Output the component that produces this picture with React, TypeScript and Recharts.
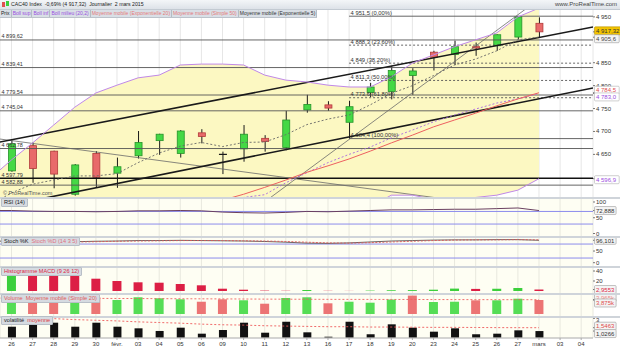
import {
  Area,
  Bar,
  CartesianGrid,
  Cell,
  ComposedChart,
  Line,
  ReferenceLine,
  XAxis,
  YAxis,
} from 'recharts';

const FONT = '"Liberation Sans", Arial, sans-serif';

// time slots: 26 Jan -> 4 Mar 2015 (the last two are empty future days)
const DAY_LABELS = [
  '26', '27', '28', '29', '30', 'févr.', '03', '04', '05', '06', '09', '10', '11', '12',
  '13', '16', '17', '18', '19', '20', '23', '24', '25', '26', '27', 'mars', '03', '04',
];

// daily candles, 26 Jan -> 2 Mar
const OPEN = [4614, 4669, 4657, 4563, 4652, 4609, 4647, 4680, 4652, 4697, 4650, 4662, 4685, 4665, 4747, 4758, 4720, 4785, 4787, 4822, 4873, 4868, 4885, 4887, 4906, 4936];
const HIGH = [4680, 4676, 4658, 4629, 4657, 4643, 4701, 4695, 4703, 4705, 4656, 4714, 4692, 4745, 4780, 4766, 4767, 4806, 4843, 4838, 4876, 4898, 4894, 4912, 4951.5, 4949];
const LOW = [4612, 4588, 4576, 4560, 4577, 4577, 4641, 4649, 4643, 4674, 4607, 4634, 4656, 4659, 4741, 4745, 4684.4, 4775, 4770, 4780, 4833, 4845, 4865, 4876, 4901, 4905.6];
const CLOSE = [4673, 4619, 4607, 4627, 4600, 4623, 4676, 4694, 4701, 4689, 4649, 4694, 4678, 4725, 4759, 4751, 4754, 4797, 4833, 4832, 4862, 4885, 4882, 4911, 4950, 4917.32];

// indicator series start one day earlier (23 Jan) so they run to the left edge
const BOLL_SUP = [4598, 4638, 4675, 4714, 4753, 4784, 4801, 4817, 4823, 4845, 4847, 4847, 4845, 4823, 4812, 4808, 4801, 4797, 4797, 4819, 4849, 4867, 4885, 4900, 4915, 4950, 4969.1];
const BOLL_INF = [4242, 4232, 4225, 4210, 4197, 4192, 4199, 4207, 4221, 4219, 4233, 4249, 4267, 4321, 4376, 4432, 4469, 4509, 4535, 4561, 4561, 4552, 4550, 4556, 4561, 4572, 4596.9];
const BOLL_MID = [4420, 4435, 4450, 4462, 4475, 4488, 4500, 4512, 4522, 4532, 4540, 4548, 4556, 4562, 4588, 4610, 4632, 4650, 4666, 4686, 4703, 4721, 4736, 4749, 4762, 4771, 4783];
const EMA20 = [4452, 4462, 4470, 4478, 4485, 4493, 4500, 4510, 4520, 4530, 4540, 4550, 4563, 4578, 4594, 4611, 4625, 4640, 4657, 4675, 4692, 4710, 4725, 4740, 4756, 4771, 4784.5];
const EMA5 = [4540, 4566, 4585, 4594, 4603, 4603, 4608, 4632, 4653, 4668, 4676, 4667, 4676, 4677, 4693, 4715, 4727, 4736, 4758, 4783, 4800, 4822, 4845, 4858, 4876, 4900, 4906];

const RSI = [73, 73, 71, 70, 70, 69, 70, 72, 72, 73, 72, 68, 66, 65, 67, 70, 69, 71, 73, 75, 75, 76, 77, 77, 79, 81, 72.888];
const STOCH_K = [93, 92, 90, 88, 90, 92, 93, 95, 95, 96, 95, 94, 93, 91, 88, 84, 83, 85, 89, 93, 95, 97, 98, 98, 99, 99, 96.101];
const STOCH_D = [92, 92, 91, 90, 89, 90, 92, 93, 94, 95, 95, 95, 94, 93, 91, 88, 85, 84, 86, 89, 92, 95, 97, 98, 98, 99, 98];
const VOLUME_SMA = [4.4, 4.4, 4.38, 4.36, 4.34, 4.32, 4.3, 4.28, 4.25, 4.22, 4.2, 4.18, 4.15, 4.12, 4.1, 4.08, 4.06, 4.05, 4.04, 4.03, 4.02, 4.0, 3.99, 3.98, 3.97, 3.965, 3.965];
const VOLATILITY_AVG = [3.25, 3.15, 3.05, 2.95, 2.8, 2.7, 2.6, 2.45, 2.35, 2.25, 2.1, 2.0, 1.95, 1.85, 1.8, 1.75, 1.7, 1.7, 1.65, 1.65, 1.62, 1.6, 1.6, 1.58, 1.56, 1.55, 1.5463];

// daily bars, 26 Jan -> 2 Mar
const MACD_HIST = [34, 33.8, 33.5, 31.4, 24.6, 20, 17.4, 16.6, 14, 11.4, 4.6, 2.6, 0.8, 0.5, 2, 0.4, 0.2, 0.8, 1.5, 1.8, 2.6, 4.8, 4.2, 4.5, 6.0, 2.9553];
const VOLUME = [3.6, 3.6, 3.6, 3.6, 4.63, 3.88, 4.63, 4.35, 4.07, 3.4, 4.07, 3.8, 2.85, 4.43, 4.63, 2.96, 3.4, 3.13, 4.0, 5.1, 3.32, 3.4, 3.79, 3.79, 4.24, 3.875];
const VOLATILITY = [1.7, 2.32, 2.32, 1.7, 2.32, 1.7, 1.45, 1.04, 1.55, 0.62, 1.19, 2.32, 0.77, 2.47, 0.83, 0.15, 2.47, 0.53, 2.07, 1.55, 0.93, 1.45, 0.53, 0.62, 1.14, 1.0266];

// drawn levels
const SUPPORTS = [4899.62, 4839.41, 4779.54, 4745.04, 4662.78, 4597.79, 4582.88];
const FIB_LEVELS = [4951.5, 4888.3, 4849, 4811.3, 4773.6, 4684.4];
const FIB_PCT = ['0,00%', '23,60%', '38,20%', '50,00%', '61,80%', '100,00%'];
const FIB_FROM = 16;
// trendlines as [slot, price] end points
const TREND_THICK = [
  [[-0.55, 4677], [27.56, 4928]],
  [[-0.55, 4535], [27.56, 4795]],
];
const TREND_THIN = [
  [[-0.55, 4683.5], [20.17, 4555]],
  [[12.25, 4555], [24.57, 4974]],
];

const X_DOMAIN: [number, number] = [-0.545, 27.56];
const SLOTS = DAY_LABELS.map((_, i) => i);
const last = (a: number[]) => a[a.length - 1];

const GREEN = '#45d845';
const GREEN_EDGE = '#26922a';
const RED = '#e86a6a';
const RED_EDGE = '#b23a3a';
const MACD_RED = '#dc1f45';
const PURPLE = '#c088e8';
const GRID = '#e6e6e6';

const rows = [-1, ...SLOTS].map((i) => {
  const k = i + 1;
  const has = i >= 0 && i < CLOSE.length;
  return {
    i,
    range: has ? [LOW[i], HIGH[i]] : null,
    open: has ? OPEN[i] : null,
    close: has ? CLOSE[i] : null,
    band: k < BOLL_SUP.length ? [BOLL_INF[k], BOLL_SUP[k]] : null,
    bollSup: BOLL_SUP[k],
    bollInf: BOLL_INF[k],
    bollMid: BOLL_MID[k],
    ema20: EMA20[k],
    ema5: EMA5[k],
    rsi: RSI[k],
    stochK: STOCH_K[k],
    stochD: STOCH_D[k],
    volSma: VOLUME_SMA[k],
    volaAvg: VOLATILITY_AVG[k],
    macd: has ? MACD_HIST[i] : null,
    volume: has ? VOLUME[i] : null,
    vola: has ? VOLATILITY[i] : null,
  };
});

const macdUp = MACD_HIST.map((v, i) => i === 0 || v >= MACD_HIST[i - 1]);
const volUp = CLOSE.map((v, i) => i === 0 || v >= CLOSE[i - 1]);

const fr = (v: number, d = 0) => {
  const [a, b] = v.toFixed(d).split('.');
  const int = a.replace(/\B(?=(\d{3})+(?!\d))/g, ' ');
  return b ? `${int},${b}` : int;
};

interface Marker {
  value: number;
  digits: number;
  suffix?: string;
  color: string;
  bg: string;
  border: string;
  dy?: number;
}

function makeTick(markers: Marker[], nudge: Record<number, number> = {}) {
  return (p: any) => {
    const { x, y, payload } = p;
    const m = markers.find((mk) => mk.value === payload.value);
    if (!m) {
      return (
        <text x={x} y={y + 2 + (nudge[payload.value] ?? 0)} fontSize={6} fill="#333" fontFamily={FONT}>
          {fr(payload.value)}
        </text>
      );
    }
    const label = fr(m.value, m.digits) + (m.suffix ?? '');
    const w = label.length * 3.1 + 3;
    return (
      <g transform={`translate(${x},${y + (m.dy ?? 0)})`}>
        <rect x={-1.5} y={-4} width={w} height={8} fill={m.bg} stroke={m.border} strokeWidth={0.6} rx={1} />
        <text x={0} y={2.2} fontSize={6} fill={m.color} fontFamily={FONT}>
          {label}
        </text>
      </g>
    );
  };
}

const plainBox = { bg: '#f4f4f4', border: '#9a9a9a' };

function Candle(props: any) {
  const { x, y, width, height, payload } = props;
  if (!payload || payload.range == null) return <g />;
  const { open, close } = payload;
  const [low, high] = payload.range;
  const k = height / (high - low);
  const top = y + (high - Math.max(open, close)) * k;
  const bottom = y + (high - Math.min(open, close)) * k;
  const cx = x + width / 2;
  const up = close > open;
  const flat = Math.abs(close - open) < 2;
  return (
    <g>
      <line x1={cx} x2={cx} y1={y} y2={y + height} stroke="#1a1a1a" strokeWidth={1} />
      {flat ? (
        <line x1={x} x2={x + width} y1={top} y2={top} stroke="#1a1a1a" strokeWidth={1.2} />
      ) : (
        <rect
          x={x + 0.5}
          y={top}
          width={width - 1}
          height={Math.max(1, bottom - top)}
          fill={up ? GREEN : RED}
          stroke={up ? GREEN_EDGE : RED_EDGE}
          strokeWidth={0.8}
        />
      )}
    </g>
  );
}

const hiddenX = (
  <XAxis dataKey="i" type="number" domain={X_DOMAIN} ticks={SLOTS} hide allowDataOverflow />
);
const MARGIN = { top: 0, right: 0, bottom: 0, left: 0 };

function PriceChart() {
  const markers: Marker[] = [
    { value: last(CLOSE), digits: 2, color: '#333', bg: '#f3c400', border: '#b58e00', dy: -1 },
    { value: last(LOW), digits: 1, color: '#444', ...plainBox, dy: 1.5 },
    { value: last(EMA20), digits: 1, color: '#e05050', bg: '#fff', border: '#b0b0b0', dy: -2.5 },
    { value: last(BOLL_MID), digits: 1, color: '#9a4ee0', bg: '#fff', border: '#b0b0b0', dy: 3.5 },
    { value: last(BOLL_INF), digits: 1, color: '#9a4ee0', bg: '#fff', border: '#b0b0b0', dy: 1 },
  ];
  return (
    <ComposedChart width={620} height={187} data={rows} margin={MARGIN}>
      <CartesianGrid horizontal={false} stroke={GRID} fill="#fff" />
      {hiddenX}
      <YAxis
        orientation="right"
        width={27}
        domain={[4557, 4965]}
        allowDataOverflow
        ticks={[4650, 4700, 4750, 4800, 4850, 4950, ...markers.map((m) => m.value)]}
        interval={0}
        axisLine={false}
        tickLine={{ stroke: '#777' }}
        tickSize={2}
        tickMargin={1}
        tick={makeTick(markers)}
      />
      <Area dataKey="band" stroke="none" fill="#fcf8c2" fillOpacity={1} isAnimationActive={false} />
      {SUPPORTS.map((v) => (
        <ReferenceLine
          key={v}
          y={v}
          stroke={v === 4597.79 ? '#111' : '#555'}
          strokeWidth={v === 4597.79 ? 1.4 : 0.9}
          label={{ value: fr(v, 2), position: 'insideBottomLeft', offset: 1.5, fontSize: 5.5, fill: '#333' }}
        />
      ))}
      {FIB_LEVELS.map((v, n) => (
        <ReferenceLine
          key={`f${v}`}
          segment={[{ x: FIB_FROM, y: v }, { x: X_DOMAIN[1], y: v }]}
          stroke="#555"
          strokeWidth={0.9}
          strokeDasharray={n === 0 || n === FIB_LEVELS.length - 1 ? undefined : '2 2'}
          ifOverflow="hidden"
          label={{ value: `${fr(v, v % 1 ? 1 : 0)} (${FIB_PCT[n]})`, position: 'insideBottomLeft', offset: 1.5, fontSize: 5.8, fill: '#333' }}
        />
      ))}
      {TREND_THIN.map((t, n) => (
        <ReferenceLine
          key={`tt${n}`}
          segment={[{ x: t[0][0], y: t[0][1] }, { x: t[1][0], y: t[1][1] }]}
          stroke="#6a6a6a"
          strokeWidth={0.8}
          ifOverflow="hidden"
        />
      ))}
      {TREND_THICK.map((t, n) => (
        <ReferenceLine
          key={`tk${n}`}
          segment={[{ x: t[0][0], y: t[0][1] }, { x: t[1][0], y: t[1][1] }]}
          stroke="#1a1a1a"
          strokeWidth={1.6}
          ifOverflow="hidden"
        />
      ))}
      <Line dataKey="bollSup" stroke={PURPLE} strokeWidth={1} dot={false} isAnimationActive={false} />
      <Line dataKey="bollInf" stroke={PURPLE} strokeWidth={1} dot={false} isAnimationActive={false} />
      <Line dataKey="bollMid" stroke="#a868e0" strokeWidth={0.9} strokeDasharray="2 2" dot={false} isAnimationActive={false} />
      <Line dataKey="ema20" stroke="#ee6060" strokeWidth={1} dot={false} isAnimationActive={false} />
      <Line dataKey="ema5" stroke="#666" strokeWidth={0.9} strokeDasharray="2 2" dot={false} isAnimationActive={false} />
      <Bar dataKey="range" barSize={8} shape={Candle} isAnimationActive={false} />
    </ComposedChart>
  );
}

function OscChart(props: {
  height: number;
  domain: [number, number];
  ticks: number[];
  markers: Marker[];
  bands: number[];
  children: any;
}) {
  return (
    <ComposedChart width={620} height={props.height} data={rows} margin={MARGIN}>
      <CartesianGrid horizontal={false} stroke="#e8e8de" fill="#fefef3" />
      {hiddenX}
      <YAxis
        orientation="right"
        width={27}
        domain={props.domain}
        allowDataOverflow
        ticks={props.ticks}
        interval={0}
        axisLine={false}
        tickLine={{ stroke: '#777' }}
        tickSize={2}
        tickMargin={1}
        tick={makeTick(props.markers)}
      />
      {props.bands.map((b) => (
        <ReferenceLine key={b} y={b} stroke="#8c8cec" strokeWidth={1} />
      ))}
      {props.children}
    </ComposedChart>
  );
}

function VolatilityChart() {
  const markers: Marker[] = [
    { value: last(VOLATILITY_AVG), digits: 4, color: '#e04848', ...plainBox, dy: -1.5 },
    { value: last(VOLATILITY), digits: 4, color: '#333', ...plainBox, dy: 2.5 },
  ];
  return (
    <ComposedChart width={620} height={31} data={rows} margin={MARGIN}>
      <CartesianGrid horizontal={false} stroke="#e8e8de" fill="#fefef3" />
      <XAxis
        dataKey="i"
        type="number"
        domain={X_DOMAIN}
        ticks={SLOTS}
        interval={0}
        allowDataOverflow
        height={11}
        axisLine={{ stroke: '#aaa' }}
        tickLine={{ stroke: '#aaa' }}
        tickSize={2}
        tick={{ fontSize: 6, fill: '#333', fontFamily: FONT }}
        tickFormatter={(v: number) => DAY_LABELS[v] ?? ''}
      />
      <YAxis
        orientation="right"
        width={27}
        domain={[-0.05, 3.05]}
        allowDataOverflow
        ticks={[3, ...markers.map((m) => m.value)]}
        interval={0}
        axisLine={false}
        tickLine={{ stroke: '#777' }}
        tickSize={2}
        tickMargin={1}
        tick={makeTick(markers, { 3: 1.5 })}
      />
      <Bar dataKey="vola" barSize={8} fill="#111" isAnimationActive={false} />
      <Line dataKey="volaAvg" stroke="#ee5a5a" strokeWidth={0.9} strokeDasharray="2 2" dot={false} isAnimationActive={false} />
    </ComposedChart>
  );
}

function Tag({ top, parts }: { top: number; parts: [string, string][] }) {
  return (
    <div
      style={{
        position: 'absolute',
        left: 1,
        top,
        height: 7,
        display: 'flex',
        gap: 3,
        padding: '0 2px',
        background: '#d6dbe1',
        border: '1px solid #b8bfc7',
        borderRadius: 1,
        fontSize: 5.6,
        lineHeight: '7px',
        whiteSpace: 'nowrap',
      }}
    >
      {parts.map(([t, c]) => (
        <span key={t} style={{ color: c }}>
          {t}
        </span>
      ))}
    </div>
  );
}

const SEPARATORS = [197, 236, 266, 293, 316];

export default function App() {
  const legend: [string, string][] = [
    ['Prix', '#222'],
    ['Boll sup', '#9a4ee0'],
    ['Boll inf', '#9a4ee0'],
    ['Boll milieu (20,2)', '#9a4ee0'],
    ['Moyenne mobile (Exponentielle 20)', '#e57a7a'],
    ['Moyenne mobile (Simple 50)', '#e57a7a'],
    ['Moyenne mobile (Exponentielle 5)', '#333'],
  ];
  return (
    <div
      style={{
        position: 'fixed',
        left: 0,
        top: 0,
        width: 620,
        height: 349,
        overflow: 'hidden',
        background: '#fff',
        fontFamily: FONT,
      }}
    >
      <div style={{ position: 'absolute', left: 0, top: 10 }}>
        <PriceChart />
      </div>
      <div style={{ position: 'absolute', left: 0, top: 199 }}>
        <OscChart height={37} domain={[-7.9, 109.5]} ticks={[0, 50, 100, last(RSI)]} bands={[70, 30]}
          markers={[{ value: last(RSI), digits: 3, color: '#333', ...plainBox }]}>
          <Line dataKey="rsi" stroke="#6a4060" strokeWidth={1} dot={false} isAnimationActive={false} />
        </OscChart>
      </div>
      <div style={{ position: 'absolute', left: 0, top: 238 }}>
        <OscChart height={28} domain={[-14.2, 106]} ticks={[0, 50, last(STOCH_K)]} bands={[80, 20]}
          markers={[{ value: last(STOCH_K), digits: 3, color: '#333', ...plainBox }]}>
          <Line dataKey="stochK" stroke="#555" strokeWidth={0.9} dot={false} isAnimationActive={false} />
          <Line dataKey="stochD" stroke="#e05555" strokeWidth={0.9} strokeDasharray="2 1.5" dot={false} isAnimationActive={false} />
        </OscChart>
      </div>
      <div style={{ position: 'absolute', left: 0, top: 268 }}>
        <OscChart height={25} domain={[-4, 46]} ticks={[20, 40, last(MACD_HIST)]} bands={[]}
          markers={[{ value: last(MACD_HIST), digits: 4, color: MACD_RED, ...plainBox }]}>
          <Bar dataKey="macd" barSize={9} isAnimationActive={false}>
            {rows.map((r) => (
              <Cell key={r.i} fill={r.i >= 0 && macdUp[r.i] ? '#3ccf3c' : MACD_RED} />
            ))}
          </Bar>
        </OscChart>
      </div>
      <div style={{ position: 'absolute', left: 0, top: 295 }}>
        <OscChart height={21} domain={[-0.55, 5.26]} ticks={[last(VOLUME_SMA), last(VOLUME)]} bands={[]}
          markers={[
            { value: last(VOLUME_SMA), digits: 3, suffix: 'k', color: '#f08a8a', ...plainBox, dy: -2 },
            { value: last(VOLUME), digits: 3, suffix: 'k', color: '#e05050', ...plainBox, dy: 3 },
          ]}>
          <Bar dataKey="volume" barSize={9} isAnimationActive={false}>
            {rows.map((r) => (
              <Cell key={r.i} fill={r.i >= 0 && volUp[r.i] ? '#55dd55' : '#ec7474'} />
            ))}
          </Bar>
          <Line dataKey="volSma" stroke="#ee6060" strokeWidth={0.9} strokeDasharray="2 2" dot={false} isAnimationActive={false} />
        </OscChart>
      </div>
      <div style={{ position: 'absolute', left: 0, top: 318 }}>
        <VolatilityChart />
      </div>

      {SEPARATORS.map((y) => (
        <div key={y} style={{ position: 'absolute', left: 0, top: y, width: 620, height: 2, background: '#cfd4da' }} />
      ))}

      {/* title bar */}
      <div
        style={{
          position: 'absolute',
          left: 0,
          top: 0,
          width: 620,
          height: 9,
          background: 'linear-gradient(#f4f6f8, #dde2e8)',
          borderBottom: '1px solid #c3cad2',
          fontSize: 5.2,
          lineHeight: '9px',
          color: '#222',
          whiteSpace: 'nowrap',
        }}
      >
        <span style={{ position: 'absolute', left: 2, top: 2, width: 3, height: 5, background: '#e05050' }} />
        <span style={{ position: 'absolute', left: 6, top: 1, width: 3, height: 5, background: '#3ccf3c' }} />
        <span style={{ position: 'absolute', left: 11 }}>
          CAC40 Index&nbsp;&nbsp;-0,69% (4 917,32)&nbsp;&nbsp;Journalier&nbsp;&nbsp;2 mars 2015
        </span>
        <span style={{ position: 'absolute', right: 3, color: '#444', fontSize: 6 }}>www.ProRealTime.com</span>
      </div>
      <div
        style={{
          position: 'absolute',
          left: 0,
          top: 10,
          height: 7,
          display: 'flex',
          background: '#d9dfe6',
          borderBottom: '1px solid #bcc3cb',
          fontSize: 5,
          lineHeight: '7px',
          whiteSpace: 'nowrap',
        }}
      >
        {legend.map(([t, c]) => (
          <span key={t} style={{ color: c, padding: '0 1px', borderRight: '1px solid #b4bcc5' }}>
            {t}
          </span>
        ))}
      </div>
      <div style={{ position: 'absolute', left: 3, top: 190, fontSize: 5.5, color: '#555', lineHeight: '6px' }}>
        © ProRealTime.com
      </div>

      <Tag top={198} parts={[['RSI (14)', '#222']]} />
      <Tag top={237} parts={[['Stoch %K', '#222'], ['Stoch %D (14 3 5)', '#e07080']]} />
      <Tag top={267} parts={[['Histogramme MACD (9 26 12)', MACD_RED]]} />
      <Tag top={294} parts={[['Volume', '#e05a5a'], ['Moyenne mobile (Simple 20)', '#e05a5a']]} />
      <Tag top={316} parts={[['volatilité', '#222'], ['moyenne', '#e04040']]} />
    </div>
  );
}
